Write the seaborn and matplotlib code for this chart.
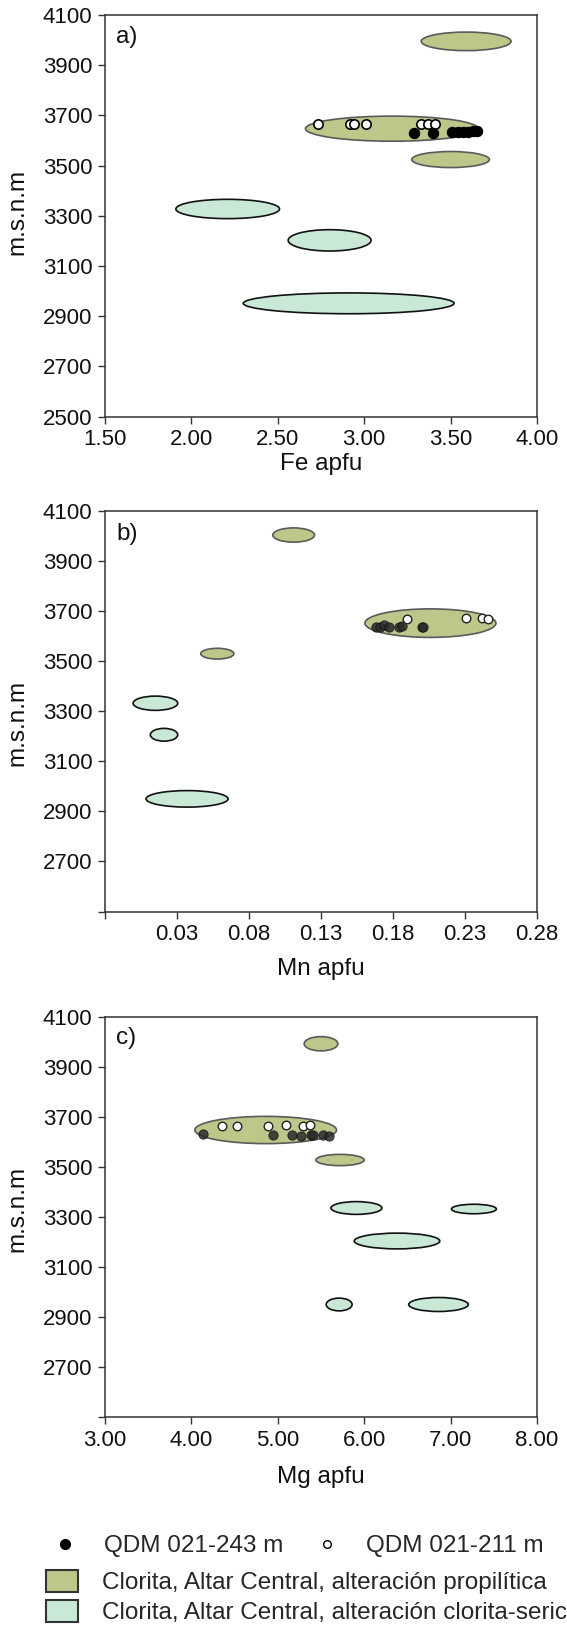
import matplotlib.pyplot as plt
from matplotlib.patches import Ellipse, Patch
from matplotlib.lines import Line2D
import seaborn as sns

sns.set_theme(style='ticks')
plt.rcParams['font.family'] = ['Liberation Sans', 'DejaVu Sans']

# ---- data ----
# a) Fe apfu
fe_243 = [3.29, 3.40, 3.51, 3.54, 3.57, 3.60, 3.63, 3.65]
fe_243_z = [3631, 3631, 3633, 3633, 3634, 3635, 3636, 3638]
fe_211 = [2.73, 2.92, 2.94, 3.01, 3.33, 3.37, 3.41]
fe_211_z = [3665, 3664, 3664, 3664, 3665, 3665, 3666]
fe_prop_x = [3.59, 3.16, 3.50]
fe_prop_z = [3995, 3647, 3524]
fe_prop_w = [0.52, 1.00, 0.45]
fe_prop_h = [74, 100, 64]
fe_ser_x = [2.21, 2.80, 2.91]
fe_ser_z = [3327, 3202, 2951]
fe_ser_w = [0.60, 0.48, 1.22]
fe_ser_h = [77, 85, 83]

# b) Mn apfu
mn_243 = [0.168, 0.171, 0.174, 0.177, 0.184, 0.186, 0.200, 0.201]
mn_243_z = [3636, 3638, 3646, 3638, 3638, 3642, 3636, 3638]
mn_211 = [0.190, 0.231, 0.242, 0.246]
mn_211_z = [3668, 3673, 3673, 3667]
mn_prop_x = [0.111, 0.206, 0.058]
mn_prop_z = [4004, 3652, 3530]
mn_prop_w = [0.029, 0.091, 0.023]
mn_prop_h = [57, 114, 43]
mn_ser_x = [0.015, 0.021, 0.037]
mn_ser_z = [3332, 3206, 2950]
mn_ser_w = [0.031, 0.019, 0.057]
mn_ser_h = [57, 51, 66]

# c) Mg apfu
mg_243 = [4.14, 4.95, 5.17, 5.27, 5.38, 5.41, 5.52, 5.59]
mg_243_z = [3632, 3630, 3628, 3626, 3628, 3627, 3628, 3626]
mg_211 = [4.35, 4.53, 4.89, 5.09, 5.29, 5.37]
mg_211_z = [3665, 3663, 3665, 3667, 3663, 3670]
mg_prop_x = [5.50, 4.86, 5.72]
mg_prop_z = [3993, 3648, 3528]
mg_prop_w = [0.39, 1.64, 0.56]
mg_prop_h = [57, 109, 45]
mg_ser_x = [5.91, 7.27, 6.38, 5.71, 6.86]
mg_ser_z = [3336, 3332, 3204, 2950, 2950]
mg_ser_w = [0.59, 0.52, 0.99, 0.30, 0.69]
mg_ser_h = [51, 38, 63, 51, 56]

z_ticks = [2500, 2700, 2900, 3100, 3300, 3500, 3700, 3900, 4100]
fe_ticks = [1.5, 2.0, 2.5, 3.0, 3.5, 4.0]
mn_ticks = [-0.02, 0.03, 0.08, 0.13, 0.18, 0.23, 0.28]
mg_ticks = [3.0, 4.0, 5.0, 6.0, 7.0, 8.0]

legend_pts = ['QDM 021-243 m', 'QDM 021-211 m']
legend_fields = ['Clorita, Altar Central, alteración propilítica',
                 'Clorita, Altar Central, alteración clorita-seric']

prop_color = '#bcc78a'
ser_color = '#c9e8d6'

# ---- figure ----
fig = plt.figure(figsize=(5.67, 16.35), dpi=100)
W, H = 567, 1635
left, width = 105 / W, 432 / W
ax_a = fig.add_axes([left, 1 - 416.5 / H, width, 401.5 / H])
ax_b = fig.add_axes([left, 1 - 911.5 / H, width, 400.5 / H])
ax_c = fig.add_axes([left, 1 - 1417 / H, width, 400 / H])


def draw_fields(ax, xs, zs, ws, hs, face, edge):
    for x, z, w, h in zip(xs, zs, ws, hs):
        ax.add_patch(Ellipse((x, z), w, h, facecolor=face, edgecolor=edge,
                             linewidth=1.2, zorder=2))


def style_axis(ax, xlim, xticks, xlabels, ylabels, xlabel, xlab_y, ylab_y, letter, letter_y):
    ax.set_xlim(xlim)
    ax.set_ylim(2500, 4100)
    ax.set_xticks(xticks)
    ax.set_xticklabels(xlabels)
    ax.set_yticks(z_ticks)
    ax.set_yticklabels(ylabels)
    ax.tick_params(direction='out', length=5, width=1, color='#333333',
                   labelsize=16, pad=4, labelcolor='#111111')
    for sp in ax.spines.values():
        sp.set_visible(True)
        sp.set_color('#333333')
        sp.set_linewidth(1.1)
    ax.set_xlabel(xlabel, fontsize=17.5, color='#111111')
    ax.xaxis.set_label_coords(0.5, xlab_y)
    ax.set_ylabel('m.s.n.m', fontsize=17.5, color='#111111')
    ax.yaxis.set_label_coords(-0.178, ylab_y)
    ax.text(0.026, letter_y, letter, transform=ax.transAxes, fontsize=17.5,
            va='center', ha='left', color='#111111')


# a) Fe
draw_fields(ax_a, fe_prop_x, fe_prop_z, fe_prop_w, fe_prop_h, prop_color, '#5a5a5a')
draw_fields(ax_a, fe_ser_x, fe_ser_z, fe_ser_w, fe_ser_h, ser_color, '#111111')
sns.scatterplot(x=fe_211, y=fe_211_z, ax=ax_a, color='white', edgecolor='black',
                linewidth=1.2, s=45, zorder=3)
sns.scatterplot(x=fe_243, y=fe_243_z, ax=ax_a, color='black', edgecolor='black',
                linewidth=0.8, s=55, zorder=4)
style_axis(ax_a, (1.5, 4.0), fe_ticks, ['%.2f' % t for t in fe_ticks],
           [str(t) for t in z_ticks], 'Fe apfu', -0.091, 0.51, 'a)', 0.945)

# b) Mn
draw_fields(ax_b, mn_prop_x, mn_prop_z, mn_prop_w, mn_prop_h, prop_color, '#5a5a5a')
draw_fields(ax_b, mn_ser_x, mn_ser_z, mn_ser_w, mn_ser_h, ser_color, '#111111')
sns.scatterplot(x=mn_243, y=mn_243_z, ax=ax_b, color='#2a2a2a', edgecolor='#111111',
                linewidth=0.6, s=45, alpha=0.85, zorder=3)
sns.scatterplot(x=mn_211, y=mn_211_z, ax=ax_b, color='white', edgecolor='#222222',
                linewidth=1.0, s=38, zorder=4)
style_axis(ax_b, (-0.02, 0.28), mn_ticks, [''] + ['%.2f' % t for t in mn_ticks[1:]],
           [''] + [str(t) for t in z_ticks[1:]], 'Mn apfu', -0.116, 0.47, 'b)', 0.943)

# c) Mg
draw_fields(ax_c, mg_prop_x, mg_prop_z, mg_prop_w, mg_prop_h, prop_color, '#5a5a5a')
draw_fields(ax_c, mg_ser_x, mg_ser_z, mg_ser_w, mg_ser_h, ser_color, '#111111')
sns.scatterplot(x=mg_211, y=mg_211_z, ax=ax_c, color='white', edgecolor='#222222',
                linewidth=1.0, s=38, zorder=3)
sns.scatterplot(x=mg_243, y=mg_243_z, ax=ax_c, color='#2a2a2a', edgecolor='#111111',
                linewidth=0.6, s=45, alpha=0.85, zorder=4)
style_axis(ax_c, (3.0, 8.0), mg_ticks, ['%.2f' % t for t in mg_ticks],
           [''] + [str(t) for t in z_ticks[1:]], 'Mg apfu', -0.1225, 0.52, 'c)', 0.9475)

# legends
dot_handles = [Line2D([], [], ls='none', marker='o', ms=7, mfc='black', mec='black'),
               Line2D([], [], ls='none', marker='o', ms=5.5, mfc='white', mec='black')]
fig.legend(dot_handles, legend_pts, loc='center left',
           bbox_to_anchor=(46 / W, 1 - 1546 / H), ncol=2, frameon=False,
           fontsize=17.5, handlelength=1.6, handletextpad=0.8, columnspacing=1.0,
           borderpad=0, borderaxespad=0)
patch_handles = [Patch(facecolor=prop_color, edgecolor='#333333', linewidth=1.5),
                 Patch(facecolor=ser_color, edgecolor='#333333', linewidth=1.5)]
fig.legend(patch_handles, legend_fields, loc='upper left',
           bbox_to_anchor=(46 / W, 1 - 1570 / H), frameon=False, fontsize=17.5,
           handlelength=1.3, handleheight=1.0, handletextpad=1.0,
           labelspacing=0.25, borderpad=0, borderaxespad=0)

fig.savefig('out.png', dpi=100)
